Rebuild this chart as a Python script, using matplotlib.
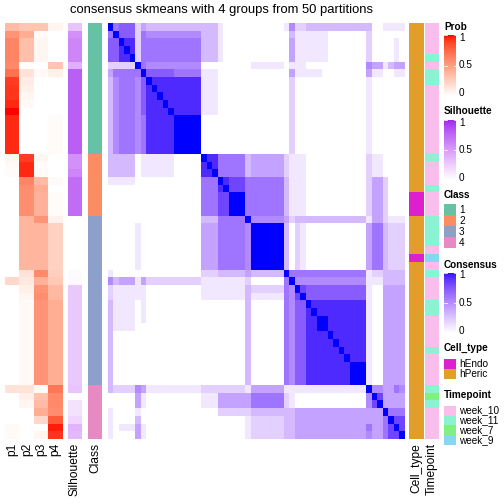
import numpy as np
import matplotlib
matplotlib.use("Agg")
import matplotlib.pyplot as plt
from matplotlib.colors import LinearSegmentedColormap, ListedColormap
from matplotlib.patches import Rectangle
from matplotlib.lines import Line2D

plt.rcParams['font.family'] = ['Liberation Sans', 'DejaVu Sans']

W = H = 504

title = "consensus skmeans with 4 groups from 50 partitions"

# consensus matrix, one row per sample, each digit = value * 10 ('a' = 1.0)
# pieces: class 1 columns | class 2 | class 3 | class 4
consensus_rows = [
	("a6777243333333333", "33310000", "0000000152233333333333", "3001111"),
	("6a777265555555555", "33310000", "0000000031111110000000", "2000000"),
	("77a99266666666666", "33310000", "0000000041111110000000", "2000010"),
	("779a9266666666666", "33310000", "0000000041111110000000", "2000010"),
	("7799a266666666666", "33310000", "0000000041111110000000", "2000010"),
	("22222a65555555555", "00000000", "0111111011100000000000", "5441344"),
	("466666a7777766666", "11100000", "0000000041111100000000", "4110011"),
	("3566657a999999999", "11100000", "0000000020000000000000", "1000000"),
	("35666579a99999999", "11100000", "0000000020000000000000", "1000000"),
	("356665799a9999999", "11100000", "0000000020000000000000", "1000000"),
	("3566657999a999999", "11100000", "0000000020000000000000", "1000000"),
	("35666579999a99999", "11100000", "0000000020000000000000", "1000000"),
	("356665699999aaaaa", "00000000", "0000000020000000000000", "1000000"),
	("356665699999aaaaa", "00000000", "0000000020000000000000", "1000000"),
	("356665699999aaaaa", "00000000", "0000000020000000000000", "1000000"),
	("356665699999aaaaa", "00000000", "0000000020000000000000", "1000000"),
	("356665699999aaaaa", "00000000", "0000000020000000000000", "1000000"),
	("33333011111100000", "a9966666", "3444444211100000000000", "2110000"),
	("33333011111100000", "9a966666", "3444444211100000000000", "2110000"),
	("33333011111100000", "99a66666", "3444444211100000000000", "2110000"),
	("11111000000000000", "666a9888", "6666666311100000000000", "2442000"),
	("00000000000000000", "6669a888", "6666666311100000000000", "2442000"),
	("00000000000000000", "66688aaa", "6666666311100000000000", "2442000"),
	("00000000000000000", "66688aaa", "6666666311100000000000", "2442000"),
	("00000000000000000", "66688aaa", "6666666311100000000000", "2442000"),
	("00000000000000000", "33366666", "a555555423333333333333", "1442111"),
	("00000100000000000", "44466666", "5aaaaaa302100000000000", "4663222"),
	("00000100000000000", "44466666", "5aaaaaa302100000000000", "4663222"),
	("00000100000000000", "44466666", "5aaaaaa302100000000000", "4663222"),
	("00000100000000000", "44466666", "5aaaaaa302100000000000", "4663222"),
	("00000100000000000", "44466666", "5aaaaaa302100000000000", "4663222"),
	("00000100000000000", "44466666", "5aaaaaa302100000000000", "4663222"),
	("10000000000000000", "22233333", "4333333a66666666666666", "1223333"),
	("53444142222222222", "11111111", "20000006a5555555555555", "1113333"),
	("21111110000000000", "11111111", "322222265a877777777777", "1004444"),
	("21111110000000000", "11111111", "3111111658a77777777777", "1004444"),
	("31111010000000000", "00000000", "30000006577a9999999999", "1004444"),
	("31111010000000000", "00000000", "300000065779a999999999", "1004444"),
	("31111010000000000", "00000000", "3000000657799aa9999999", "1004444"),
	("31111000000000000", "00000000", "3000000657799aa9999999", "1004444"),
	("30000000000000000", "00000000", "300000065779999a999999", "1004444"),
	("30000000000000000", "00000000", "3000000657799999a99999", "1004444"),
	("30000000000000000", "00000000", "30000006577999999a9999", "1004444"),
	("30000000000000000", "00000000", "300000065779999999a999", "1004444"),
	("30000000000000000", "00000000", "3000000657799999999aaa", "1004444"),
	("30000000000000000", "00000000", "3000000657799999999aaa", "1004444"),
	("30000000000000000", "00000000", "3000000657799999999aaa", "1004444"),
	("32222541111111111", "22222222", "1444444111111111111111", "a554465"),
	("00000410000000000", "11144444", "4666666210000000000000", "5a84444"),
	("00000410000000000", "11144444", "4666666210000000000000", "58a4444"),
	("10000100000000000", "00022222", "2333333334444444444444", "444a666"),
	("10000300000000000", "00000000", "1222222334444444444444", "4446a88"),
	("10111410000000000", "00000000", "1222222334444444444444", "64468a8"),
	("10000410000000000", "00000000", "1222222334444444444444", "544688a"),
]

prob_p1 = [0.35, 0.55, 0.62, 0.62, 0.62, 0.6, 0.7, 0.9, 0.92, 0.92, 0.95, 1.0, 0.95, 0.95, 0.95, 0.95, 0.95,
	0.05, 0.03, 0.02, 0, 0, 0, 0, 0,
	0, 0, 0, 0, 0, 0, 0, 0, 0.2, 0, 0, 0, 0, 0, 0, 0, 0, 0, 0, 0, 0, 0,
	0.15, 0, 0, 0, 0, 0.03, 0.03]
prob_p2 = [0.3, 0.42, 0.33, 0.33, 0.33, 0, 0.15, 0.1, 0.08, 0.05, 0.03, 0, 0, 0, 0, 0, 0,
	0.9, 0.95, 0.95, 0.62, 0.58, 0.58, 0.58, 0.58,
	0.38, 0.38, 0.38, 0.38, 0.38, 0.38, 0.38, 0.15, 0.12, 0.08, 0.05, 0.03, 0.03, 0.03, 0.03, 0.03, 0.03, 0.03, 0.03, 0.03, 0.03, 0.03,
	0.15, 0.08, 0.05, 0, 0, 0, 0]
prob_p3 = [0.3, 0.03, 0.05, 0.05, 0.05, 0, 0.03, 0, 0, 0, 0, 0, 0, 0, 0, 0, 0,
	0.05, 0.02, 0.03, 0.35, 0.42, 0.4, 0.4, 0.4,
	0.55, 0.38, 0.38, 0.38, 0.38, 0.38, 0.38, 0.6, 0.4, 0.55, 0.58, 0.55, 0.55, 0.55, 0.55, 0.55, 0.55, 0.55, 0.55, 0.55, 0.55, 0.55,
	0.02, 0.32, 0.35, 0.42, 0.2, 0, 0.05]
prob_p4 = [0.05, 0, 0, 0, 0, 0.3, 0.08, 0, 0, 0, 0, 0, 0.02, 0.02, 0.02, 0.02, 0.02,
	0, 0, 0, 0.03, 0, 0.02, 0.02, 0.02,
	0.07, 0.24, 0.24, 0.24, 0.24, 0.24, 0.24, 0.25, 0.28, 0.37, 0.37, 0.42, 0.42, 0.42, 0.42, 0.42, 0.42, 0.42, 0.42, 0.42, 0.42, 0.42,
	0.68, 0.6, 0.6, 0.58, 0.8, 0.97, 0.92]
silhouette = [0.3, 0.55, 0.6, 0.6, 0.6, 0.4, 0.78, 0.78, 0.78, 0.78, 0.78, 0.78, 0.78, 0.78, 0.78, 0.78, 0.78,
	0.55, 0.55, 0.6, 0.72, 0.72, 0.72, 0.72, 0.72,
	0, 0, 0, 0, 0, 0, 0, 0.02, 0.03, 0.27, 0.27, 0.27, 0.27, 0.27, 0.27, 0.27, 0.27, 0.27, 0.27, 0.27, 0.27, 0.27,
	0.3, 0.02, 0.15, 0.15, 0.2, 0.38, 0.35]
classes = [1, 1, 1, 1, 1, 1, 1, 1, 1, 1, 1, 1, 1, 1, 1, 1, 1,
	2, 2, 2, 2, 2, 2, 2, 2,
	3, 3, 3, 3, 3, 3, 3, 3, 3, 3, 3, 3, 3, 3, 3, 3, 3, 3, 3, 3, 3, 3,
	4, 4, 4, 4, 4, 4, 4]
cell_type = ["hPeric"] * 22 + ["hEndo"] * 3 + ["hPeric"] * 5 + ["hEndo"] + ["hPeric"] * 23
timepoint = ["week_10", "week_10", "week_10", "week_10", "week_11", "week_10", "week_11", "week_11",
	"week_10", "week_10", "week_10", "week_10", "week_10", "week_10", "week_10", "week_10", "week_10",
	"week_11", "week_10", "week_10", "week_10", "week_11", "week_10", "week_10", "week_10",
	"week_11", "week_11", "week_11", "week_11", "week_10", "week_9", "week_10", "week_11",
	"week_10", "week_10", "week_10", "week_11", "week_11", "week_10", "week_10", "week_10", "week_10",
	"week_11", "week_10", "week_10", "week_10", "week_10",
	"week_11", "week_7", "week_11", "week_10", "week_10", "week_10", "week_10"]

class_colors = {1: "#66C2A5", 2: "#FC8D62", 3: "#8DA0CB", 4: "#E78AC3"}
cell_colors = {"hEndo": "#DE1FCF", "hPeric": "#E29D2B"}
time_colors = {"week_10": "#F9BEEB", "week_11": "#8BF3D1", "week_7": "#7FF17C", "week_9": "#88D7F2"}


# colour ramps interpolated in LAB space, like colorRamp2
def to_lab(rgb):
	rgb = np.asarray(rgb, float)
	lin = np.where(rgb <= 0.04045, rgb / 12.92, ((rgb + 0.055) / 1.055) ** 2.4)
	m = np.array([[0.4124, 0.3576, 0.1805], [0.2126, 0.7152, 0.0722], [0.0193, 0.1192, 0.9505]])
	xyz = lin @ m.T / np.array([0.95047, 1.0, 1.08883])
	f = np.where(xyz > 0.008856, np.cbrt(xyz), 7.787 * xyz + 16 / 116)
	return np.stack([116 * f[..., 1] - 16, 500 * (f[..., 0] - f[..., 1]), 200 * (f[..., 1] - f[..., 2])], -1)


def from_lab(lab):
	fy = (lab[..., 0] + 16) / 116
	fx = fy + lab[..., 1] / 500
	fz = fy - lab[..., 2] / 200
	f = np.stack([fx, fy, fz], -1)
	xyz = np.where(f ** 3 > 0.008856, f ** 3, (f - 16 / 116) / 7.787) * np.array([0.95047, 1.0, 1.08883])
	m = np.array([[3.2406, -1.5372, -0.4986], [-0.9689, 1.8758, 0.0415], [0.0557, -0.2040, 1.0570]])
	lin = xyz @ m.T
	rgb = np.where(lin <= 0.0031308, 12.92 * lin, 1.055 * np.abs(lin) ** (1 / 2.4) - 0.055)
	return np.clip(rgb, 0, 1)


def lab_ramp(end_hex):
	end = matplotlib.colors.to_rgb(end_hex)
	a, b = to_lab([1.0, 1.0, 1.0]), to_lab(end)
	t = np.linspace(0, 1, 256)[:, None]
	return LinearSegmentedColormap.from_list(end_hex, from_lab(a + t * (b - a)))


red_cmap = lab_ramp("#FF0000")
purple_cmap = lab_ramp("#A020F0")
blue_cmap = lab_ramp("#0000FF")

mat = np.array([[int(c, 16) / 10 for c in "".join(r)] for r in consensus_rows])
mat = (mat + mat.T) / 2

fig = plt.figure(figsize=(W / 72, H / 72), dpi=72)


def add_ax(x0, y0, x1, y1):
	ax = fig.add_axes([x0 / W, 1 - y1 / H, (x1 - x0) / W, (y1 - y0) / H])
	ax.set_axis_off()
	return ax


def ftext(x, y, s, **kw):
	fig.text(x / W, 1 - y / H, s, **kw)


top, bottom = 23, 439

# heatmap body
ax = add_ax(107.5, top, 404, bottom)
ax.imshow(mat, cmap=blue_cmap, vmin=0, vmax=1, aspect="auto", interpolation="nearest")

# left annotations
ax = add_ax(5, top, 62.3, bottom)
ax.imshow(np.column_stack([prob_p1, prob_p2, prob_p3, prob_p4]), cmap=red_cmap, vmin=0, vmax=1,
	aspect="auto", interpolation="nearest")
ax = add_ax(68, top, 82, bottom)
ax.imshow(np.array(silhouette)[:, None], cmap=purple_cmap, vmin=0, vmax=1, aspect="auto", interpolation="nearest")
ax = add_ax(88, top, 102, bottom)
ax.imshow(np.array(classes)[:, None] - 1, cmap=ListedColormap([class_colors[k] for k in (1, 2, 3, 4)]),
	vmin=-0.5, vmax=3.5, aspect="auto", interpolation="nearest")

# right annotations
cell_levels = ["hEndo", "hPeric"]
ax = add_ax(409, top, 424, bottom)
ax.imshow(np.array([cell_levels.index(c) for c in cell_type])[:, None],
	cmap=ListedColormap([cell_colors[k] for k in cell_levels]), vmin=-0.5, vmax=1.5,
	aspect="auto", interpolation="nearest")
time_levels = ["week_10", "week_11", "week_7", "week_9"]
ax = add_ax(425, top, 439, bottom)
ax.imshow(np.array([time_levels.index(t) for t in timepoint])[:, None],
	cmap=ListedColormap([time_colors[k] for k in time_levels]), vmin=-0.5, vmax=3.5,
	aspect="auto", interpolation="nearest")

# annotation names
for x, name in [(12.5, "p1"), (27, "p2"), (41.2, "p3"), (55.5, "p4"), (75, "Silhouette"), (95, "Class"),
	(416.5, "Cell_type"), (432, "Timepoint")]:
	ftext(x, 443, name, rotation=90, ha="center", va="top", fontsize=12)

ftext(222, 10, title, ha="center", va="center", fontsize=13)


# legends
def bar_legend(name, y_title, y_top, cmap):
	ftext(444, y_title, name, fontweight="bold", fontsize=10, va="center")
	h = 61
	ax = add_ax(444, y_top, 456, y_top + h)
	ax.imshow(np.linspace(1, 0, 200)[:, None], cmap=cmap, vmin=0, vmax=1, aspect="auto")
	for v, lab in [(1, "1"), (0.5, "0.5"), (0, "0")]:
		y = y_top + (1 - v) * h
		for xs in ((444, 446.5), (453.5, 456)):
			fig.add_artist(Line2D([xs[0] / W, xs[1] / W], [1 - y / H] * 2, color="white", lw=0.8))
		ylab = min(max(y, y_top + 3), y_top + h - 3)
		ftext(459, ylab, lab, fontsize=10, va="center")


def box_legend(name, y_title, y_top, box_h, labels, colors):
	ftext(444, y_title, name, fontweight="bold", fontsize=10, va="center")
	for i, (lab, col) in enumerate(zip(labels, colors)):
		y0 = y_top + i * box_h
		fig.add_artist(Rectangle((444 / W, 1 - (y0 + box_h) / H), 12 / W, box_h / H,
			facecolor=col, edgecolor="none", transform=fig.transFigure))
		ftext(459, y0 + box_h / 2, lab, fontsize=10, va="center")


bar_legend("Prob", 26.7, 35, red_cmap)
bar_legend("Silhouette", 110.7, 119.5, purple_cmap)
box_legend("Class", 195, 204, 11.1, ["1", "2", "3", "4"], [class_colors[k] for k in (1, 2, 3, 4)])
bar_legend("Consensus", 265, 272.5, blue_cmap)
box_legend("Cell_type", 348.3, 359.3, 10, cell_levels, [cell_colors[k] for k in cell_levels])
box_legend("Timepoint", 395, 405.7, 9.8, time_levels, [time_colors[k] for k in time_levels])

fig.savefig("out.png", dpi=72)
